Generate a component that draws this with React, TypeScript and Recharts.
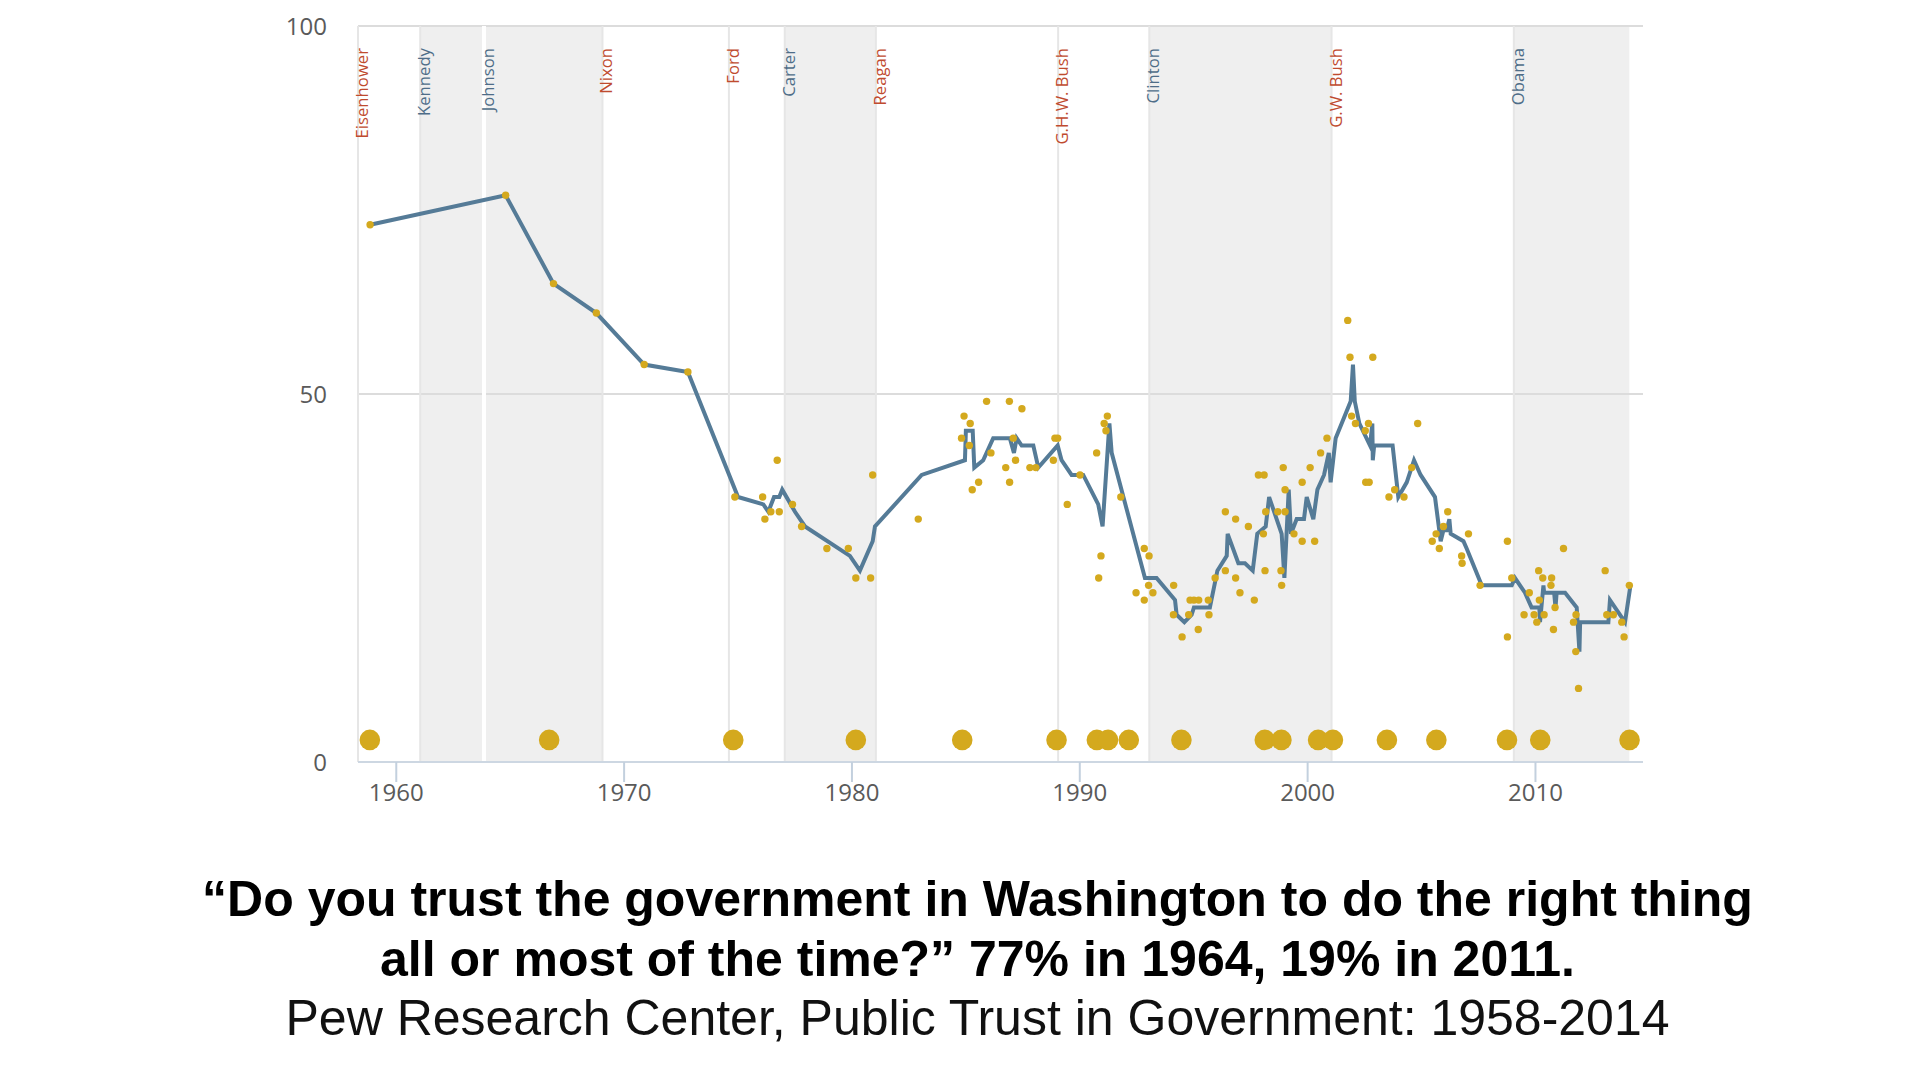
import React from 'react';
import {
  ComposedChart,
  XAxis,
  YAxis,
  Line,
  Scatter,
  ReferenceArea,
  ReferenceLine,
} from 'recharts';

// individual polls: year (decimal), % trusting government
const pollYears = [
  1958.85, 1964.8, 1966.9, 1968.78, 1970.88, 1972.8,
  1974.86, 1976.08, 1976.18, 1976.44, 1976.72, 1976.81, 1977.39, 1977.79, 1978.9, 1979.84,
  1980.17, 1980.82, 1980.91, 1982.91, 1984.81, 1984.92, 1985.19, 1985.15, 1985.28, 1985.56,
  1985.91, 1986.1, 1986.75, 1986.91, 1986.92, 1987.08, 1987.18, 1987.46, 1987.81, 1988.07,
  1988.84, 1988.91, 1989.03, 1989.45, 1990.01, 1990.74, 1990.93, 1990.83, 1991.07, 1991.21,
  1991.15, 1991.8, 1992.47, 1992.83, 1992.83, 1993.04, 1993.02, 1993.21, 1994.12, 1994.11,
  1994.49, 1994.84, 1994.78, 1995.01, 1995.22, 1995.2, 1995.64, 1995.67, 1995.94, 1996.39,
  1996.39, 1996.84, 1996.84, 1997.03, 1997.4, 1997.66, 1997.84, 1998.09, 1998.06, 1998.13,
  1998.16, 1998.69, 1998.93, 1999.01, 1999.01, 1998.83, 1998.86, 1999.4, 1999.76, 1999.76,
  2000.11, 2000.31, 2000.57, 2000.85, 2001.76, 2001.86, 2002.86, 2001.93, 2002.1, 2002.53,
  2002.67, 2002.55, 2002.7, 2003.57, 2003.82, 2004.23, 2004.57, 2004.83, 2005.47, 2005.64,
  2005.78, 2005.96, 2006.15, 2007.06, 2006.76, 2006.78, 2007.57, 2008.77, 2008.77, 2008.96,
  2009.5, 2009.73, 2009.94, 2010.06, 2010.17, 2010.14, 2010.32, 2010.38, 2010.71, 2010.68,
  2010.86, 2010.79, 2011.23, 2011.78, 2011.67, 2011.77, 2011.89, 2013.06, 2013.13, 2013.42,
  2013.79, 2013.89, 2014.12,
];
const pollValues = [
  73, 77, 65, 61, 54, 53,
  36, 36, 33, 34, 41, 34, 35, 32, 29, 29,
  25, 25, 39, 33, 44, 47, 46, 43, 37, 38,
  49, 42, 40, 49, 38, 44, 41, 48, 40, 40,
  41, 44, 44, 35, 39, 42, 28, 25, 46, 47,
  45, 36, 23, 22, 29, 28, 24, 23, 24, 20,
  17, 22, 20, 22, 22, 18, 22, 20, 25, 34,
  26, 33, 25, 23, 32, 22, 39, 39, 31, 26,
  34, 34, 40, 37, 34, 26, 24, 31, 38, 30,
  40, 30, 42, 44, 60, 55, 55, 47, 46, 45,
  46, 38, 38, 36, 37, 36, 40, 46, 30, 31,
  29, 32, 34, 31, 28, 27, 24, 30, 17, 25,
  20, 23, 20, 19, 22, 26, 25, 20, 25, 24,
  21, 18, 29, 20, 19, 15, 10, 26, 20, 20,
  19, 17, 24,
];

// moving average
const trendYears = [
  1958.85, 1964.8, 1966.9, 1968.78, 1970.88, 1972.8, 1975.0, 1976.11, 1976.33, 1976.58,
  1976.81, 1976.94, 1977.5, 1977.94, 1979.91, 1980.35, 1980.91, 1981.01, 1983.06, 1984.96,
  1985.0, 1985.3, 1985.37, 1985.76, 1986.2, 1986.93, 1987.11, 1987.23, 1987.45, 1987.96,
  1988.18, 1989.03, 1989.2, 1989.64, 1990.15, 1990.81, 1991.0, 1991.3, 1991.4, 1992.86,
  1993.37, 1994.18, 1994.25, 1994.59, 1994.91, 1995.01, 1995.71, 1996.04, 1996.45, 1996.49,
  1996.96, 1997.25, 1997.59, 1997.79, 1998.16, 1998.31, 1998.86, 1998.98, 1999.17, 1999.27,
  1999.52, 1999.84, 1999.96, 2000.25, 2000.43, 2000.72, 2000.93, 2001.01, 2001.23, 2001.89,
  2001.99, 2002.07, 2002.27, 2002.74, 2002.84, 2002.86, 2002.92, 2003.73, 2003.98, 2004.35,
  2004.67, 2004.96, 2005.59, 2005.84, 2005.96, 2006.1, 2006.22, 2006.28, 2006.84, 2006.98,
  2007.64, 2008.96, 2009.1, 2009.54, 2009.83, 2010.17, 2010.2, 2010.35, 2010.38, 2010.82,
  2010.88, 2010.93, 2011.3, 2011.81, 2011.93, 2011.96, 2013.2, 2013.27, 2013.93, 2014.17,
];
const trendValues = [
  73, 77, 65, 61, 54, 53, 36, 35, 34, 36,
  36, 37, 34, 32, 28, 26, 30, 32, 39, 41,
  45, 45, 40, 41, 44, 44, 42, 44, 43, 43,
  40, 43, 41, 39, 39, 35, 32, 46, 42, 25,
  25, 22, 20, 19, 20, 21, 21, 26, 28, 31,
  27, 27, 26, 31, 32, 36, 31, 25, 37, 31,
  33, 33, 36, 33, 37, 39, 42, 38, 44, 49,
  54, 49, 46, 43, 46, 41, 43, 43, 36, 38,
  41, 39, 36, 30, 31.5, 31.5, 33, 31, 30, 29,
  24, 24, 25, 23, 21, 21, 19, 24, 23, 23,
  21, 23, 23, 21, 15, 19, 19, 22, 19, 24,
];

// the big dots along the bottom
const electionYears = [
  1958.84, 1966.71, 1974.79, 1980.17, 1984.84, 1988.98, 1990.75, 1991.24, 1992.15, 1994.46,
  1998.12, 1998.85, 2000.46, 2001.11, 2003.48, 2005.65, 2008.75, 2010.21, 2014.13,
];
const electionLevel = 3;

const presidentNames = [
  'Eisenhower', 'Kennedy', 'Johnson', 'Nixon', 'Ford', 'Carter',
  'Reagan', 'G.H.W. Bush', 'Clinton', 'G.W. Bush', 'Obama',
];
const presidentParties = ['R', 'D', 'D', 'R', 'R', 'D', 'R', 'R', 'D', 'R', 'D'];
const presidentStarts = [
  1953.05, 1961.05, 1963.85, 1969.05, 1974.6, 1977.05,
  1981.05, 1989.05, 1993.05, 2001.05, 2009.05,
];
const dataEnd = 2014.12;

const xTicks = [1960, 1970, 1980, 1990, 2000, 2010];
const yTicks = [0, 50, 100];
const xDomain = [1958.32, 2014.72];

const pollData = pollYears.map((year, i) => ({ year, value: pollValues[i] }));
const trendData = trendYears.map((year, i) => ({ year, value: trendValues[i] }));
const electionData = electionYears.map((year) => ({ year, value: electionLevel }));

const GOLD = '#d4a91e';
const LINE = '#557b97';
const RED = '#bf4b2f';
const BLUE = '#4e6d88';

const smallDot = (p: any) => <circle cx={p.cx} cy={p.cy} r={3.7} fill={GOLD} />;
const bigDot = (p: any) => <circle cx={p.cx} cy={p.cy} r={10.3} fill={GOLD} />;

function PresidentLabel({ viewBox, name, party }: any) {
  const x = viewBox.x + 10;
  const y = 48;
  return (
    <text
      x={x}
      y={y}
      transform={`rotate(-90 ${x} ${y})`}
      textAnchor="end"
      fontFamily="'Open Sans', sans-serif"
      fontSize={16.7}
      fill={party === 'R' ? RED : BLUE}
    >
      {name}
    </text>
  );
}

export default function App() {
  const bands = presidentNames.map((name, i) => ({
    name,
    party: presidentParties[i],
    from: Math.max(presidentStarts[i], xDomain[0]),
    to: i + 1 < presidentStarts.length ? presidentStarts[i + 1] : dataEnd,
  }));

  return (
    <div style={{ position: 'relative', width: 1920, height: 1080 }}>
      <div style={{ position: 'absolute', left: -8, top: -8 }}>
        <ComposedChart width={1920} height={850} margin={{ top: 26, right: 277, bottom: 28, left: 278 }}>
          {bands
            .filter((b) => b.party === 'D')
            .map((b) => (
              <ReferenceArea
                key={'band-' + b.name}
                x1={b.from}
                x2={b.to}
                y1={0}
                y2={100}
                fill="#efefef"
                fillOpacity={1}
                stroke="none"
              />
            ))}
          {yTicks
            .filter((t) => t > 0)
            .map((t) => (
              <ReferenceLine key={'grid-' + t} y={t} stroke="#dcdcdc" strokeWidth={2} />
            ))}
          {bands.map((b, i) => (
            <ReferenceLine
              key={'pres-' + b.name}
              x={b.from}
              stroke={i > 0 && bands[i - 1].party === 'D' && b.party === 'D' ? '#ffffff' : '#e6e6e6'}
              strokeWidth={i > 0 && bands[i - 1].party === 'D' && b.party === 'D' ? 4 : 2}
              label={(props: any) => <PresidentLabel {...props} name={b.name} party={b.party} />}
            />
          ))}
          <XAxis
            type="number"
            dataKey="year"
            domain={xDomain}
            allowDataOverflow
            ticks={xTicks}
            height={60}
            tickSize={20}
            tickMargin={2}
            axisLine={{ stroke: '#cdd7e2', strokeWidth: 2 }}
            tickLine={{ stroke: '#c3d0de', strokeWidth: 2 }}
            tick={{ fill: '#5a5a5a', fontSize: 24, fontFamily: "'Open Sans', sans-serif" }}
          />
          <YAxis
            type="number"
            dataKey="value"
            domain={[0, 100]}
            ticks={yTicks}
            width={80}
            axisLine={false}
            tickLine={false}
            tickSize={0}
            tickMargin={31}
            tick={{ fill: '#5a5a5a', fontSize: 24, fontFamily: "'Open Sans', sans-serif" }}
          />
          <Scatter data={pollData} dataKey="value" shape={smallDot} isAnimationActive={false} />
          <Scatter data={electionData} dataKey="value" shape={bigDot} isAnimationActive={false} />
          <Line
            data={trendData}
            dataKey="value"
            type="linear"
            stroke={LINE}
            strokeWidth={4}
            dot={false}
            activeDot={false}
            isAnimationActive={false}
          />
        </ComposedChart>
      </div>
      <div
        style={{
          position: 'absolute',
          left: -8,
          top: 861,
          width: 1955,
          textAlign: 'center',
          fontFamily: "'Liberation Sans', Arial, sans-serif",
          color: '#000',
        }}
      >
        <div style={{ fontSize: 50, fontWeight: 'bold', lineHeight: '60px' }}>
          “Do you trust the government in Washington to do the right thing
          <br />
          all or most of the time?” 77% in 1964, 19% in 2011.
        </div>
        <div style={{ fontSize: 50, lineHeight: '58px', color: '#111' }}>
          Pew Research Center, Public Trust in Government: 1958-2014
        </div>
      </div>
    </div>
  );
}
